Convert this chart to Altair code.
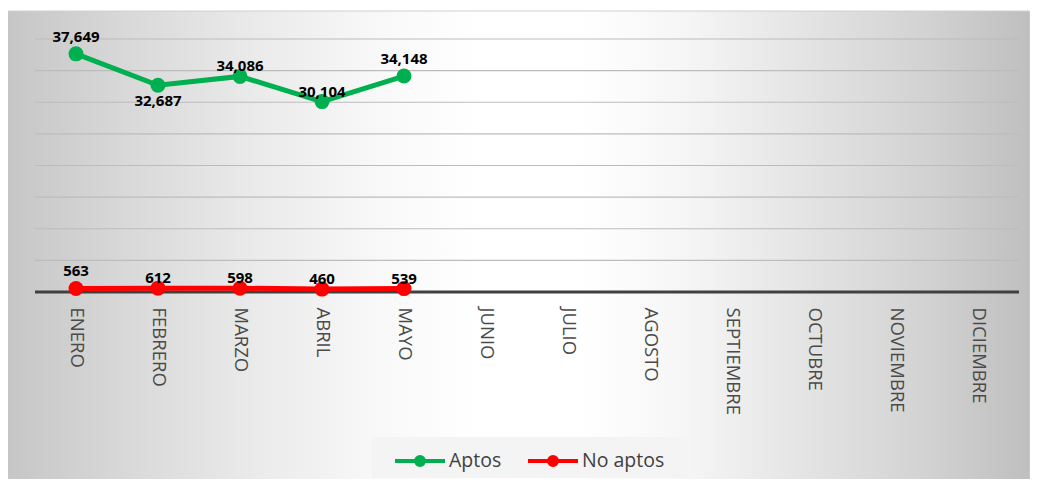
import altair as alt
import pandas as pd

months = ["ENERO", "FEBRERO", "MARZO", "ABRIL", "MAYO", "JUNIO", "JULIO",
          "AGOSTO", "SEPTIEMBRE", "OCTUBRE", "NOVIEMBRE", "DICIEMBRE"]
data_months = ["ENERO", "FEBRERO", "MARZO", "ABRIL", "MAYO"]
aptos = [37649, 32687, 34086, 30104, 34148]
no_aptos = [563, 612, 598, 460, 539]
# where Excel placed each data label
aptos_pos = ["arriba", "abajo", "cerca", "cerca", "arriba"]
no_aptos_pos = ["arriba", "cerca", "cerca", "cerca", "cerca"]
series = ["Aptos", "No aptos"]
colors = ["#00b050", "#ff0000"]
grid_values = [5000, 10000, 15000, 20000, 25000, 30000, 35000, 40000]

rows = []
for m, v, p in zip(data_months, aptos, aptos_pos):
    rows.append({"mes": m, "serie": "Aptos", "valor": v, "pos": p})
for m, v, p in zip(data_months, no_aptos, no_aptos_pos):
    rows.append({"mes": m, "serie": "No aptos", "valor": v, "pos": p})
df = pd.DataFrame(rows)
grid_df = pd.DataFrame({"v": grid_values})
one = pd.DataFrame({"a": [0]})

W, H = 984, 253
FONT = "Open Sans"

x_enc = alt.X("mes:N", sort=months, scale=alt.Scale(domain=months, paddingInner=0, paddingOuter=0),
              axis=alt.Axis(title=None, labelAngle=90, labelAlign="left", labelBaseline="middle",
                            labelPadding=15, ticks=False, domain=False, grid=False, zindex=2,
                            labelFont=FONT, labelFontSize=18.5, labelColor="#4a4a4a"))
y_scale = alt.Scale(domain=[0, 40000], nice=False, zero=True)
y_enc = alt.Y("valor:Q", scale=y_scale, axis=None)
color_enc = alt.Color("serie:N", scale=alt.Scale(domain=series, range=colors),
                      legend=alt.Legend(
                          orient="none", legendX=358, legendY=395, direction="horizontal",
                          title=None,
                          symbolType="M-1,0L1,0M-0.16,0A0.16,0.16 0 1,1 0.16,0A0.16,0.16 0 1,1 -0.16,0Z"
                                     "M-0.07,0A0.07,0.07 0 1,1 0.07,0A0.07,0.07 0 1,1 -0.07,0Z",
                          symbolSize=2500, symbolStrokeWidth=4, symbolOpacity=1,
                          labelFont=FONT, labelFontSize=19.5, labelColor="#404040",
                          labelOffset=2, columnPadding=18, padding=0))

bg = alt.Chart(one).mark_rect(
    fill=alt.LinearGradient(
        gradient="linear",
        stops=[alt.GradientStop(color="#c6c6c6", offset=0),
               alt.GradientStop(color="#d9d9d9", offset=0.12),
               alt.GradientStop(color="#eaeaea", offset=0.24),
               alt.GradientStop(color="#f8f8f8", offset=0.36),
               alt.GradientStop(color="#ffffff", offset=0.46),
               alt.GradientStop(color="#ffffff", offset=0.56),
               alt.GradientStop(color="#f6f6f6", offset=0.66),
               alt.GradientStop(color="#e4e4e4", offset=0.78),
               alt.GradientStop(color="#d2d2d2", offset=0.9),
               alt.GradientStop(color="#bfbfbf", offset=1)],
        x1=0, y1=0.5, x2=1, y2=0.5),
    stroke="#d0d0d0", strokeWidth=1
).encode(x=alt.value(-28), x2=alt.value(995), y=alt.value(-28), y2=alt.value(446))

legend_box = alt.Chart(one).mark_rect(fill="#f3f3f3", opacity=0.95).encode(
    x=alt.value(337), x2=alt.value(653), y=alt.value(398), y2=alt.value(439))

grid = alt.Chart(grid_df).mark_rule(color="#bcbcbc", strokeWidth=1.2).encode(
    y=alt.Y("v:Q", scale=y_scale, axis=None))

base_line = alt.Chart(one).mark_rule(color="#404040", strokeWidth=3).encode(
    y=alt.Y("a:Q", scale=y_scale, axis=None))

lines = alt.Chart(df).mark_line(
    strokeWidth=5,
    point=alt.OverlayMarkDef(size=225, filled=True, opacity=1)
).encode(x=x_enc, y=y_enc, color=color_enc)

offsets = {"arriba": -17, "cerca": -10, "abajo": 16}
labels = []
for pos, dy in offsets.items():
    labels.append(
        alt.Chart(df).transform_filter(alt.datum.pos == pos).mark_text(
            font=FONT, fontSize=15, fontWeight="bold", color="#000000", dy=dy
        ).encode(x=x_enc, y=y_enc, text=alt.Text("valor:Q", format=",d"))
    )

chart = alt.layer(bg, legend_box, grid, base_line, lines, *labels).properties(
    width=W, height=H,
    autosize=alt.AutoSizeParams(type="none"),
    padding={"left": 27, "top": 31, "right": 11, "bottom": 187},
    background="#ffffff"
).configure_view(stroke=None)

chart.save("out.html", embed_options={"renderer": "svg", "actions": False})
